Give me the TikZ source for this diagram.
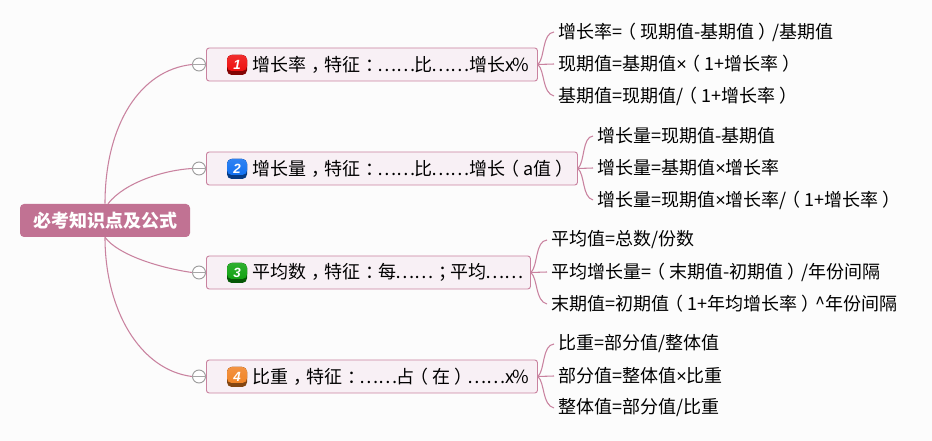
\documentclass[tikz,border=0pt]{standalone}
\usepackage{fontspec}
\setmainfont{Noto Sans CJK SC}
\newfontfamily\iconfont{Liberation Sans}
\newcommand{\lpar}{\kern-0.22em（\kern0.22em}
\newcommand{\rpar}{\kern0.22em）\kern-0.22em}
\newcommand{\pun}[1]{\kern0.3em#1\kern-0.3em}
\newcommand{\elli}{\kern-0.05em……\kern-0.05em}
\newcommand{\tms}{{\iconfont ×}}
\newcommand{\pct}{x\kern-1pt\%}
\definecolor{rootpink}{HTML}{C17293}
\definecolor{linepink}{HTML}{C9829F}
\definecolor{boxpink}{HTML}{F8F0F5}
\definecolor{pagewhite}{HTML}{FCFCFC}
\definecolor{iconred}{HTML}{EE0808}
\definecolor{iconblue}{HTML}{0A6CF0}
\definecolor{icongreen}{HTML}{0AA00A}
\definecolor{iconorange}{HTML}{F08020}
\tikzset{
    connector/.style={linepink, line width=0.8pt},
    rootbox/.style={fill=rootpink, rounded corners=3pt, text=white, font=\fontsize{13.5}{15}\selectfont\bfseries,
        minimum width=127.5pt, minimum height=24.75pt, inner sep=0pt},
    branchbox/.style={draw=linepink, fill=boxpink, rounded corners=2pt, line width=0.7pt, anchor=west, align=left,
        font=\fontsize{13.5}{15}\selectfont, inner xsep=0pt, inner ysep=0pt, minimum height=24.75pt, text width=#1*0.75pt},
    leaftext/.style={anchor=west, inner xsep=3pt, inner ysep=2pt, font=\fontsize{13.5}{15}\selectfont},
    collapse/.style={circle, draw=gray!80, fill=white, line width=0.7pt, minimum size=9.75pt, inner sep=0pt},
    collapsebar/.style={gray!70, line width=1.2pt},
    icon/.style={rounded corners=3.5pt, minimum size=15pt, inner sep=0pt, text=white,
        font=\iconfont\itshape\bfseries\fontsize{10}{11}\selectfont, fill=#1!55!black,
        path picture={\fill[top color=#1!85!white, bottom color=#1]
            (path picture bounding box.north west) rectangle ([yshift=3pt]path picture bounding box.south east);}},
}
\begin{document}
\begin{tikzpicture}[x=0.75pt, y=-0.75pt]
    \useasboundingbox (0,0) rectangle (932,441);
    \fill [pagewhite] (0,0) rectangle (932,441);
    % centre
    \node [rootbox] (root) at (105,220.5) {必考知识点及公式};
    % first level
    \node [branchbox=331] (rate) at (206,64.5) {\hspace*{34.5pt}增长率\pun{，}特征\pun{：}\elli 比\elli 增长\pct};
    \node [branchbox=371] (amount) at (206,168.5) {\hspace*{34.5pt}增长量\pun{，}特征\pun{：}\elli 比\elli 增长\lpar a值\rpar};
    \node [branchbox=324] (mean) at (206,272.5) {\hspace*{34.5pt}平均数\pun{，}特征\pun{：}每\elli \pun{；}平均\elli};
    \node [branchbox=331] (share) at (206,376.5) {\hspace*{34.5pt}比重\pun{，}特征\pun{：}\elli 占\lpar 在\rpar \elli \pct};
    \node [collapse] (foldrate) at (199,64.5) {};
    \node [collapse] (foldamount) at (199,168.5) {};
    \node [collapse] (foldmean) at (199,272.5) {};
    \node [collapse] (foldshare) at (199,376.5) {};
    \draw [collapsebar] (foldrate.west) -- (foldrate.east);
    \draw [collapsebar] (foldamount.west) -- (foldamount.east);
    \draw [collapsebar] (foldmean.west) -- (foldmean.east);
    \draw [collapsebar] (foldshare.west) -- (foldshare.east);
    \node [icon=iconred] (iconrate) at (237,65) {1};
    \node [icon=iconblue] (iconamount) at (237,169) {2};
    \node [icon=icongreen] (iconmean) at (237,273) {3};
    \node [icon=iconorange] (iconshare) at (237,377) {4};
    \draw [connector] (root.north) .. controls (105,125) and (140,70) .. (foldrate.west);
    \draw [connector] (root.north) ++(3,0) .. controls (125,182) and (165,170) .. (foldamount.west);
    \draw [connector] (root.south) .. controls (118,255) and (160,268) .. (foldmean.west);
    \draw [connector] (root.south) .. controls (105,310) and (140,370) .. (foldshare.west);
    % leaves
    \node [leaftext] (rateA) at (554,32) {增长率=\lpar 现期值-基期值\rpar /基期值};
    \node [leaftext] (rateB) at (554,64) {现期值=基期值\tms\lpar 1+增长率\rpar};
    \node [leaftext] (rateC) at (554,96) {基期值=现期值/\lpar 1+增长率\rpar};
    \node [leaftext] (amountA) at (593,136) {增长量=现期值-基期值};
    \node [leaftext] (amountB) at (593,168) {增长量=基期值\tms 增长率};
    \node [leaftext] (amountC) at (593,200) {增长量=现期值\tms 增长率/\lpar 1+增长率\rpar};
    \node [leaftext] (meanA) at (547,240) {平均值=总数/份数};
    \node [leaftext] (meanB) at (547,272) {平均增长量=\lpar 末期值-初期值\rpar /年份间隔};
    \node [leaftext] (meanC) at (547,304) {末期值=初期值\lpar 1+年均增长率\rpar \^{}年份间隔};
    \node [leaftext] (shareA) at (554,344) {比重=部分值/整体值};
    \node [leaftext] (shareB) at (554,376) {部分值=整体值\tms 比重};
    \node [leaftext] (shareC) at (554,408) {整体值=部分值/比重};
    % forks
    \draw [connector] (rate.east) .. controls (545,58) and (542,33) .. (rateA.west);
    \draw [connector] (rate.east) -- (rateB.west);
    \draw [connector] (rate.east) .. controls (545,71) and (542,93) .. (rateC.west);
    \draw [connector] (amount.east) .. controls (585,162) and (582,137) .. (amountA.west);
    \draw [connector] (amount.east) -- (amountB.west);
    \draw [connector] (amount.east) .. controls (585,175) and (582,197) .. (amountC.west);
    \draw [connector] (mean.east) .. controls (538,266) and (535,241) .. (meanA.west);
    \draw [connector] (mean.east) -- (meanB.west);
    \draw [connector] (mean.east) .. controls (538,279) and (535,301) .. (meanC.west);
    \draw [connector] (share.east) .. controls (545,370) and (542,345) .. (shareA.west);
    \draw [connector] (share.east) -- (shareB.west);
    \draw [connector] (share.east) .. controls (545,383) and (542,405) .. (shareC.west);
\end{tikzpicture}
\end{document}
